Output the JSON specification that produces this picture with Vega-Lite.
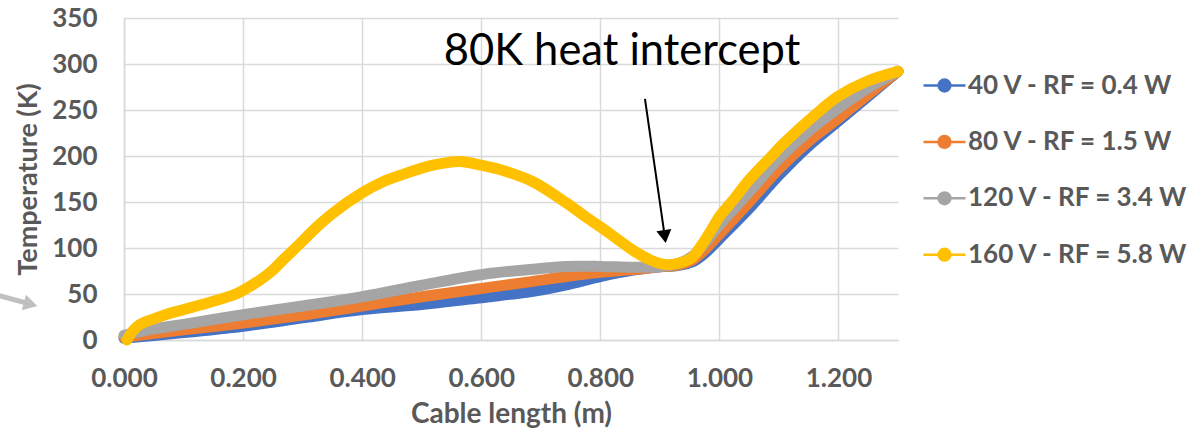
{
  "$schema": "https://vega.github.io/schema/vega-lite/v6.json",
  "autosize": {"type": "none"},
  "width": 774,
  "height": 322,
  "padding": {"left": 124, "top": 18, "right": 301, "bottom": 89},
  "background": "white",
  "config": {"view": {"stroke": null}, "font": "Lato"},
  "layer": [
    {
      "data": {"values": [
        {"series": "40 V - RF = 0.4 W", "length": 0.0, "temp": 2},
        {"series": "40 V - RF = 0.4 W", "length": 0.05, "temp": 5},
        {"series": "40 V - RF = 0.4 W", "length": 0.1, "temp": 8},
        {"series": "40 V - RF = 0.4 W", "length": 0.2, "temp": 15},
        {"series": "40 V - RF = 0.4 W", "length": 0.3, "temp": 24},
        {"series": "40 V - RF = 0.4 W", "length": 0.4, "temp": 33},
        {"series": "40 V - RF = 0.4 W", "length": 0.5, "temp": 38.5},
        {"series": "40 V - RF = 0.4 W", "length": 0.6, "temp": 46},
        {"series": "40 V - RF = 0.4 W", "length": 0.687, "temp": 53},
        {"series": "40 V - RF = 0.4 W", "length": 0.743, "temp": 60},
        {"series": "40 V - RF = 0.4 W", "length": 0.8, "temp": 69},
        {"series": "40 V - RF = 0.4 W", "length": 0.855, "temp": 76},
        {"series": "40 V - RF = 0.4 W", "length": 0.9, "temp": 79.5},
        {"series": "40 V - RF = 0.4 W", "length": 0.93, "temp": 81},
        {"series": "40 V - RF = 0.4 W", "length": 0.955, "temp": 85},
        {"series": "40 V - RF = 0.4 W", "length": 0.975, "temp": 94},
        {"series": "40 V - RF = 0.4 W", "length": 1.0, "temp": 110},
        {"series": "40 V - RF = 0.4 W", "length": 1.05, "temp": 143},
        {"series": "40 V - RF = 0.4 W", "length": 1.1, "temp": 179},
        {"series": "40 V - RF = 0.4 W", "length": 1.15, "temp": 211},
        {"series": "40 V - RF = 0.4 W", "length": 1.2, "temp": 238},
        {"series": "40 V - RF = 0.4 W", "length": 1.25, "temp": 265},
        {"series": "40 V - RF = 0.4 W", "length": 1.3, "temp": 292},
        {"series": "80 V - RF = 1.5 W", "length": 0.0, "temp": 3},
        {"series": "80 V - RF = 1.5 W", "length": 0.05, "temp": 7},
        {"series": "80 V - RF = 1.5 W", "length": 0.1, "temp": 11},
        {"series": "80 V - RF = 1.5 W", "length": 0.2, "temp": 18.5},
        {"series": "80 V - RF = 1.5 W", "length": 0.3, "temp": 27},
        {"series": "80 V - RF = 1.5 W", "length": 0.4, "temp": 37},
        {"series": "80 V - RF = 1.5 W", "length": 0.5, "temp": 47},
        {"series": "80 V - RF = 1.5 W", "length": 0.6, "temp": 56},
        {"series": "80 V - RF = 1.5 W", "length": 0.687, "temp": 63.7},
        {"series": "80 V - RF = 1.5 W", "length": 0.743, "temp": 69},
        {"series": "80 V - RF = 1.5 W", "length": 0.8, "temp": 73.5},
        {"series": "80 V - RF = 1.5 W", "length": 0.855, "temp": 76.5},
        {"series": "80 V - RF = 1.5 W", "length": 0.9, "temp": 79.5},
        {"series": "80 V - RF = 1.5 W", "length": 0.93, "temp": 81.5},
        {"series": "80 V - RF = 1.5 W", "length": 0.955, "temp": 87},
        {"series": "80 V - RF = 1.5 W", "length": 0.975, "temp": 98},
        {"series": "80 V - RF = 1.5 W", "length": 1.0, "temp": 115},
        {"series": "80 V - RF = 1.5 W", "length": 1.05, "temp": 150},
        {"series": "80 V - RF = 1.5 W", "length": 1.1, "temp": 186},
        {"series": "80 V - RF = 1.5 W", "length": 1.15, "temp": 216},
        {"series": "80 V - RF = 1.5 W", "length": 1.2, "temp": 241},
        {"series": "80 V - RF = 1.5 W", "length": 1.25, "temp": 267},
        {"series": "80 V - RF = 1.5 W", "length": 1.3, "temp": 292},
        {"series": "120 V - RF = 3.4 W", "length": 0.0, "temp": 5},
        {"series": "120 V - RF = 3.4 W", "length": 0.05, "temp": 12},
        {"series": "120 V - RF = 3.4 W", "length": 0.1, "temp": 17},
        {"series": "120 V - RF = 3.4 W", "length": 0.2, "temp": 27.5},
        {"series": "120 V - RF = 3.4 W", "length": 0.3, "temp": 37},
        {"series": "120 V - RF = 3.4 W", "length": 0.4, "temp": 47},
        {"series": "120 V - RF = 3.4 W", "length": 0.5, "temp": 59.5},
        {"series": "120 V - RF = 3.4 W", "length": 0.6, "temp": 71},
        {"series": "120 V - RF = 3.4 W", "length": 0.687, "temp": 77},
        {"series": "120 V - RF = 3.4 W", "length": 0.743, "temp": 80},
        {"series": "120 V - RF = 3.4 W", "length": 0.8, "temp": 80},
        {"series": "120 V - RF = 3.4 W", "length": 0.855, "temp": 79},
        {"series": "120 V - RF = 3.4 W", "length": 0.9, "temp": 80},
        {"series": "120 V - RF = 3.4 W", "length": 0.93, "temp": 83},
        {"series": "120 V - RF = 3.4 W", "length": 0.955, "temp": 91},
        {"series": "120 V - RF = 3.4 W", "length": 0.975, "temp": 105},
        {"series": "120 V - RF = 3.4 W", "length": 1.0, "temp": 125},
        {"series": "120 V - RF = 3.4 W", "length": 1.05, "temp": 161},
        {"series": "120 V - RF = 3.4 W", "length": 1.1, "temp": 197},
        {"series": "120 V - RF = 3.4 W", "length": 1.15, "temp": 227},
        {"series": "120 V - RF = 3.4 W", "length": 1.2, "temp": 252},
        {"series": "120 V - RF = 3.4 W", "length": 1.25, "temp": 274},
        {"series": "120 V - RF = 3.4 W", "length": 1.3, "temp": 292},
        {"series": "160 V - RF = 5.8 W", "length": 0.005, "temp": 0},
        {"series": "160 V - RF = 5.8 W", "length": 0.015, "temp": 10},
        {"series": "160 V - RF = 5.8 W", "length": 0.027, "temp": 17},
        {"series": "160 V - RF = 5.8 W", "length": 0.05, "temp": 23},
        {"series": "160 V - RF = 5.8 W", "length": 0.072, "temp": 28},
        {"series": "160 V - RF = 5.8 W", "length": 0.1, "temp": 33},
        {"series": "160 V - RF = 5.8 W", "length": 0.128, "temp": 38},
        {"series": "160 V - RF = 5.8 W", "length": 0.16, "temp": 44},
        {"series": "160 V - RF = 5.8 W", "length": 0.184, "temp": 49},
        {"series": "160 V - RF = 5.8 W", "length": 0.2, "temp": 54},
        {"series": "160 V - RF = 5.8 W", "length": 0.228, "temp": 65},
        {"series": "160 V - RF = 5.8 W", "length": 0.25, "temp": 76},
        {"series": "160 V - RF = 5.8 W", "length": 0.267, "temp": 87},
        {"series": "160 V - RF = 5.8 W", "length": 0.296, "temp": 105},
        {"series": "160 V - RF = 5.8 W", "length": 0.324, "temp": 123},
        {"series": "160 V - RF = 5.8 W", "length": 0.351, "temp": 138},
        {"series": "160 V - RF = 5.8 W", "length": 0.4, "temp": 160},
        {"series": "160 V - RF = 5.8 W", "length": 0.435, "temp": 172},
        {"series": "160 V - RF = 5.8 W", "length": 0.464, "temp": 179},
        {"series": "160 V - RF = 5.8 W", "length": 0.519, "temp": 190},
        {"series": "160 V - RF = 5.8 W", "length": 0.564, "temp": 194},
        {"series": "160 V - RF = 5.8 W", "length": 0.6, "temp": 190},
        {"series": "160 V - RF = 5.8 W", "length": 0.643, "temp": 183},
        {"series": "160 V - RF = 5.8 W", "length": 0.687, "temp": 172},
        {"series": "160 V - RF = 5.8 W", "length": 0.743, "temp": 149},
        {"series": "160 V - RF = 5.8 W", "length": 0.771, "temp": 136},
        {"series": "160 V - RF = 5.8 W", "length": 0.8, "temp": 123},
        {"series": "160 V - RF = 5.8 W", "length": 0.83, "temp": 109},
        {"series": "160 V - RF = 5.8 W", "length": 0.856, "temp": 97},
        {"series": "160 V - RF = 5.8 W", "length": 0.884, "temp": 87},
        {"series": "160 V - RF = 5.8 W", "length": 0.91, "temp": 82},
        {"series": "160 V - RF = 5.8 W", "length": 0.935, "temp": 84},
        {"series": "160 V - RF = 5.8 W", "length": 0.955, "temp": 90},
        {"series": "160 V - RF = 5.8 W", "length": 0.967, "temp": 100},
        {"series": "160 V - RF = 5.8 W", "length": 0.985, "temp": 118},
        {"series": "160 V - RF = 5.8 W", "length": 1.0, "temp": 134},
        {"series": "160 V - RF = 5.8 W", "length": 1.023, "temp": 152},
        {"series": "160 V - RF = 5.8 W", "length": 1.05, "temp": 174},
        {"series": "160 V - RF = 5.8 W", "length": 1.088, "temp": 200},
        {"series": "160 V - RF = 5.8 W", "length": 1.107, "temp": 213},
        {"series": "160 V - RF = 5.8 W", "length": 1.163, "temp": 246},
        {"series": "160 V - RF = 5.8 W", "length": 1.2, "temp": 265},
        {"series": "160 V - RF = 5.8 W", "length": 1.247, "temp": 281},
        {"series": "160 V - RF = 5.8 W", "length": 1.3, "temp": 292}
      ]},
      "mark": {"type": "line", "strokeWidth": 11, "strokeCap": "round", "strokeJoin": "round", "interpolate": "catmull-rom"},
      "encoding": {
        "x": {
          "field": "length", "type": "quantitative",
          "scale": {"domain": [0, 1.3], "nice": false, "zero": false},
          "axis": {
            "title": "Cable length (m)",
            "values": [0, 0.2, 0.4, 0.6, 0.8, 1.0, 1.2],
            "format": ".3f",
            "labelFont": "Lato", "labelFontSize": 26, "labelFontWeight": "bold", "labelColor": "#595959",
            "labelPadding": 25, "labelFlush": false,
            "ticks": false,
            "domainColor": "#D9D9D9", "domainWidth": 1.5,
            "gridColor": "#D9D9D9", "gridWidth": 1.5,
            "titleFont": "Lato", "titleFontSize": 28, "titleFontWeight": "bold", "titleColor": "#595959",
            "titlePadding": 9
          }
        },
        "y": {
          "field": "temp", "type": "quantitative",
          "scale": {"domain": [0, 350], "nice": false},
          "axis": {
            "title": "Temperature (K)",
            "values": [0, 50, 100, 150, 200, 250, 300, 350],
            "labelFont": "Lato", "labelFontSize": 26, "labelFontWeight": "bold", "labelColor": "#595959",
            "labelPadding": 27,
            "ticks": false,
            "domainColor": "#D9D9D9", "domainWidth": 1.5,
            "gridColor": "#D9D9D9", "gridWidth": 1.5,
            "titleFont": "Lato", "titleFontSize": 27, "titleFontWeight": "bold", "titleColor": "#595959",
            "titlePadding": 9
          }
        },
        "color": {
          "field": "series", "type": "nominal",
          "scale": {
            "domain": ["40 V - RF = 0.4 W", "80 V - RF = 1.5 W", "120 V - RF = 3.4 W", "160 V - RF = 5.8 W"],
            "range": ["#4472C4", "#ED7D31", "#A5A5A5", "#FFC000"]
          },
          "legend": {
            "title": null,
            "orient": "none",
            "legendX": 798,
            "legendY": 45,
            "padding": 0,
            "symbolType": "M-1,0H-0.28M0.28,0H1M-0.28,0A0.28,0.28,0,1,1,0.28,0A0.28,0.28,0,1,1,-0.28,0Z",
            "symbolSize": 1764,
            "symbolStrokeWidth": 2.5,
            "labelFont": "Lato", "labelFontSize": 26, "labelFontWeight": "bold", "labelColor": "#595959",
            "labelOffset": 1,
            "labelLimit": 0,
            "rowPadding": 20.4,
            "encode": {"symbols": {"update": {"fill": {"scale": "color", "field": "value"}, "stroke": {"scale": "color", "field": "value"}}}}
          }
        },
        "order": {"field": "length", "type": "quantitative"}
      }
    },
    {
      "data": {"values": [{"x": 0.875, "y": 262, "x2": 0.9083, "y2": 112.4}]},
      "mark": {"type": "rule", "color": "black", "strokeWidth": 2},
      "encoding": {
        "x": {"field": "x", "type": "quantitative"},
        "y": {"field": "y", "type": "quantitative"},
        "x2": {"field": "x2"},
        "y2": {"field": "y2"}
      }
    },
    {
      "data": {"values": [{"x": 0.9083, "y": 112.4}]},
      "mark": {"type": "point", "shape": "triangle-down", "filled": true, "color": "black", "opacity": 1, "size": 225, "angle": 351.8},
      "encoding": {
        "x": {"field": "x", "type": "quantitative"},
        "y": {"field": "y", "type": "quantitative"}
      }
    },
    {
      "data": {"values": [{"x": -0.2251, "y": 50.9, "x2": -0.1569, "y2": 38.9}]},
      "mark": {"type": "rule", "color": "#BFBFBF", "strokeWidth": 5},
      "encoding": {
        "x": {"field": "x", "type": "quantitative"},
        "y": {"field": "y", "type": "quantitative"},
        "x2": {"field": "x2"},
        "y2": {"field": "y2"}
      }
    },
    {
      "data": {"values": [{"x": -0.1569, "y": 38.9}]},
      "mark": {"type": "point", "shape": "triangle-right", "filled": true, "color": "#BFBFBF", "opacity": 1, "size": 256, "angle": 15},
      "encoding": {
        "x": {"field": "x", "type": "quantitative"},
        "y": {"field": "y", "type": "quantitative"}
      }
    },
    {
      "data": {"values": [{"x": 0.8364, "y": 298.9, "label": "80K heat intercept"}]},
      "mark": {"type": "text", "font": "Lato", "fontSize": 43.5, "color": "black", "align": "center", "baseline": "alphabetic"},
      "encoding": {
        "x": {"field": "x", "type": "quantitative"},
        "y": {"field": "y", "type": "quantitative"},
        "text": {"field": "label"}
      }
    }
  ]
}
